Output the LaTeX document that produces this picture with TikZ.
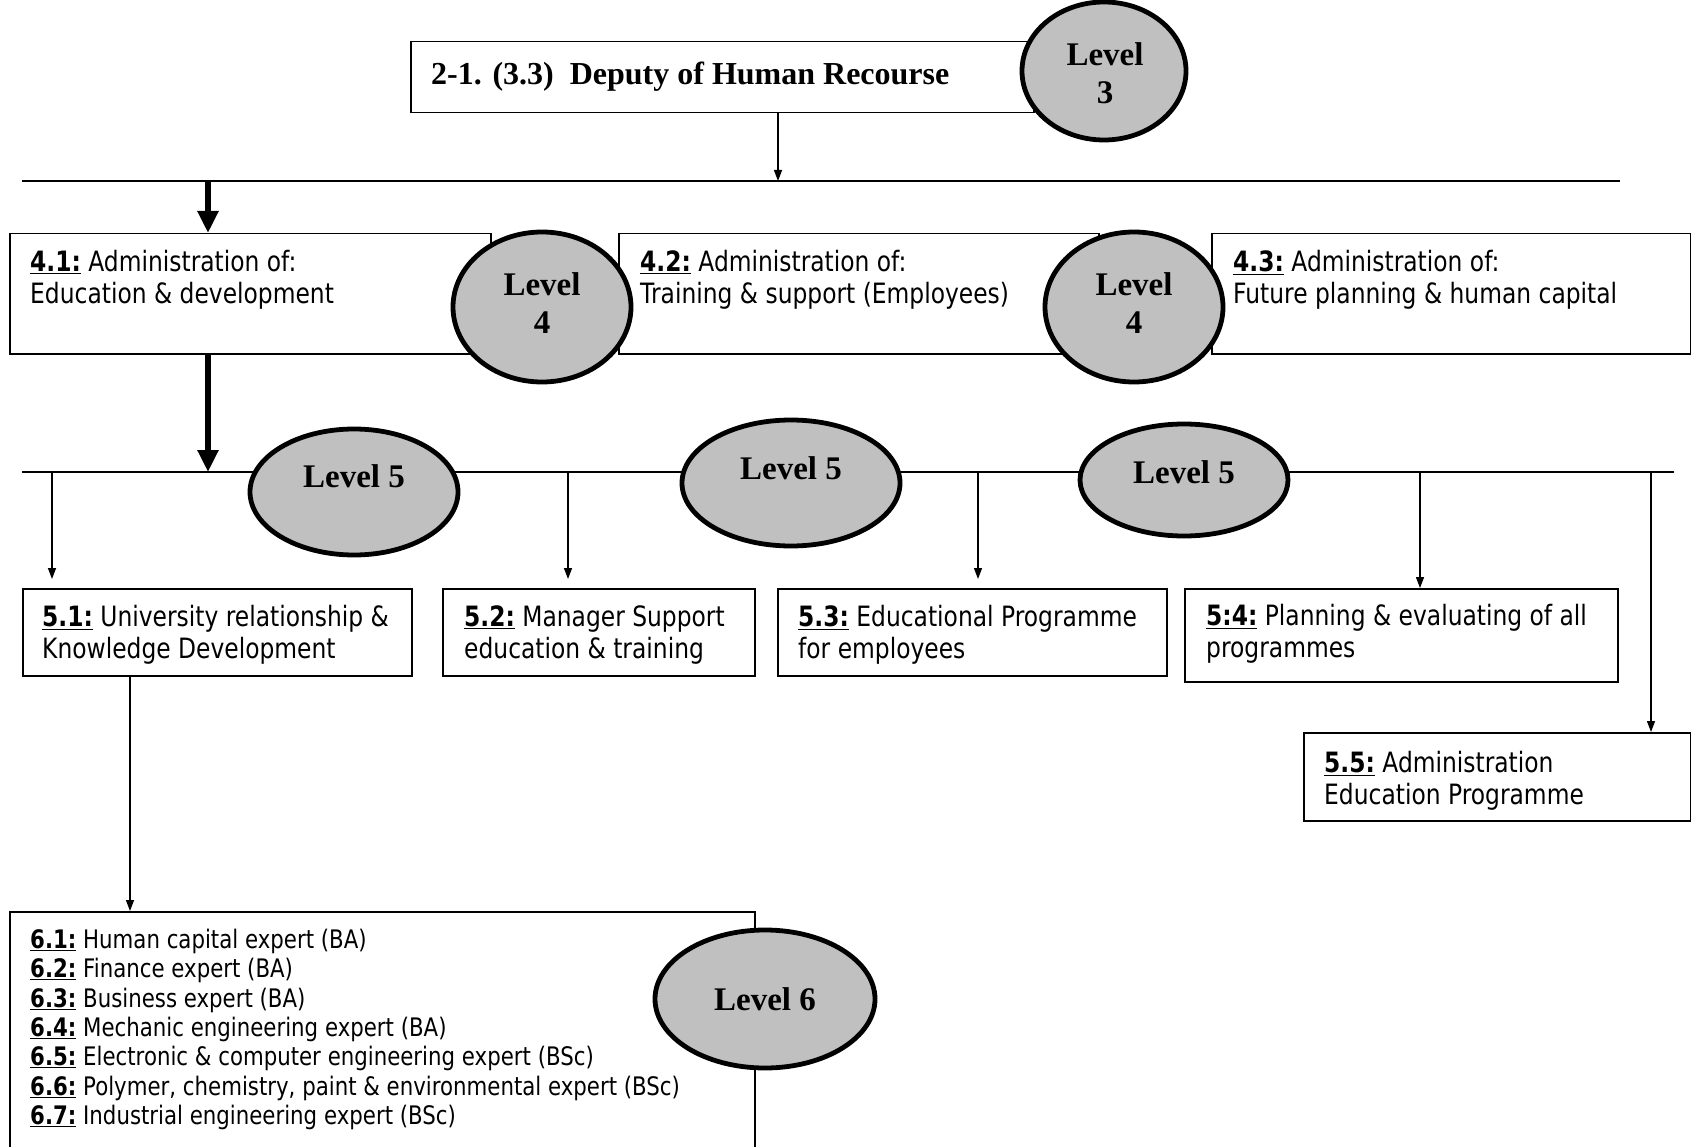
\documentclass[tikz,border=0pt]{standalone}
\usepackage{fontspec}
\usetikzlibrary{shapes.geometric,arrows.meta}
\newfontfamily\bodyf[FakeStretch=0.835]{DejaVu Sans}
\newfontfamily\timesf{Liberation Serif}
\definecolor{lvlgray}{RGB}{192,192,192}
\newcommand{\lb}[1]{\underline{\textbf{#1}}}
\begin{document}
\begin{tikzpicture}[x=1pt,y=-1pt,
  box/.style={draw, line width=1.5pt, fill=white, inner sep=0pt, anchor=north west},
  lvl/.style={ellipse, draw, line width=4.8pt, fill=lvlgray, inner sep=0pt},
  conn/.style={line width=1.4pt, -{Triangle[length=11pt,width=8pt]}},
  bigarrow/.style={line width=6pt, -{Triangle[length=22pt,width=20pt]}},
  bus/.style={line width=1.6pt},
  txt/.style={anchor=west, inner sep=0pt, align=left, font=\bodyf\fontsize{28}{31.5}\selectfont},
  smalltxt/.style={anchor=north west, inner sep=0pt, align=left, font=\bodyf\fontsize{25.5}{29.3}\selectfont},
  lvltxt/.style={inner sep=0pt, align=center, font=\timesf\bfseries\fontsize{33}{38}\selectfont},
]
\useasboundingbox[fill=white] (0,0) rectangle (1691,1147);

% bus coordinates
\coordinate (busAL) at (22,181);
\coordinate (busAR) at (1620,181);
\coordinate (busBL) at (22,472);
\coordinate (busBR) at (1674,472);
\coordinate (tA) at (778,181);
\coordinate (tB) at (208,181);
\coordinate (c1) at (52,472);
\coordinate (c2) at (568,472);
\coordinate (c3) at (978,472);
\coordinate (c4) at (1420,472);
\coordinate (c5) at (1651,472);
\coordinate (c6) at (130,0);

\draw[bus] (busAL) -- (busAR);
\draw[bus] (busBL) -- (busBR);

% boxes
\node[box, minimum width=623pt, minimum height=71pt] (top) at (410,41) {};
\node[box, minimum width=481pt, minimum height=120pt] (b41) at (9,233) {};
\node[box, minimum width=480pt, minimum height=120pt] (b42) at (618,233) {};
\node[box, minimum width=479pt, minimum height=120pt] (b43) at (1211,233) {};
\node[box, minimum width=389pt, minimum height=87pt] (b51) at (22,588) {};
\node[box, minimum width=312pt, minimum height=87pt] (b52) at (442,588) {};
\node[box, minimum width=389pt, minimum height=87pt] (b53) at (777,588) {};
\node[box, minimum width=433pt, minimum height=93pt] (b54) at (1184,588) {};
\node[box, minimum width=387pt, minimum height=88pt] (b55) at (1303,732) {};
\node[box, minimum width=745pt, minimum height=250pt] (b6) at (9,911) {};

% connectors
\draw[conn] (top.south -| tA) -- (tA);
\draw[bigarrow] (tB) -- (b41.north -| tB);
\draw[bigarrow] (b41.south -| tB) -- (busBL -| tB);
\draw[conn, shorten >=9pt] (c1) -- (b51.north -| c1);
\draw[conn, shorten >=9pt] (c2) -- (b52.north -| c2);
\draw[conn, shorten >=9pt] (c3) -- (b53.north -| c3);
\draw[conn] (c4) -- (b54.north -| c4);
\draw[conn] (c5) -- (b55.north -| c5);
\draw[conn] (b51.south -| c6) -- (b6.north -| c6);

% level ellipses
\node[lvl, minimum width=164pt, minimum height=138pt] (e3) at (1104,71) {};
\node[lvl, minimum width=178pt, minimum height=150pt] (e41) at (542,307) {};
\node[lvl, minimum width=178pt, minimum height=150pt] (e42) at (1134,307) {};
\node[lvl, minimum width=208pt, minimum height=126pt] (e51) at (354,492) {};
\node[lvl, minimum width=218pt, minimum height=126pt] (e52) at (791,483) {};
\node[lvl, minimum width=208pt, minimum height=112pt] (e53) at (1184,480) {};
\node[lvl, minimum width=220pt, minimum height=138pt] (e6) at (765,999) {};

% level texts
\node[lvltxt] (l3) at (1105,73) {Level\\3};
\node[lvltxt] (l41) at (542,303) {Level\\4};
\node[lvltxt] (l42) at (1134,303) {Level\\4};
\node[lvltxt] (l51) at (354,476) {Level 5};
\node[lvltxt] (l52) at (791,468) {Level 5};
\node[lvltxt] (l53) at (1184,472) {Level 5};
\node[lvltxt] (l6) at (765,999) {Level 6};

% box texts
\node[anchor=west, inner sep=0pt, font=\timesf\bfseries\fontsize{32}{38}\selectfont] (ttop) at (431,77) {2-1. (3.3)\ \ Deputy of Human Recourse};
\node[txt] (t41) at (30,280) {\lb{4.1:} Administration of:\\Education \& development};
\node[txt] (t42) at (640,280) {\lb{4.2:} Administration of:\\Training \& support (Employees)};
\node[txt] (t43) at (1233,280) {\lb{4.3:} Administration of:\\Future planning \& human capital};
\node[txt] (t51) at (42,635) {\lb{5.1:} University relationship \&\\Knowledge Development};
\node[txt] (t52) at (464,635) {\lb{5.2:} Manager Support\\education \& training};
\node[txt] (t53) at (798,635) {\lb{5.3:} Educational Programme\\for employees};
\node[txt] (t54) at (1206,634) {\lb{5:4:} Planning \& evaluating of all\\programmes};
\node[txt] (t55) at (1324,781) {\lb{5.5:} Administration\\Education Programme};
\node[smalltxt] (t6) at (30,929) {\lb{6.1:} Human capital expert (BA)\\
\lb{6.2:} Finance expert (BA)\\
\lb{6.3:} Business expert (BA)\\
\lb{6.4:} Mechanic engineering expert (BA)\\
\lb{6.5:} Electronic \& computer engineering expert (BSc)\\
\lb{6.6:} Polymer, chemistry, paint \& environmental expert (BSc)\\
\lb{6.7:} Industrial engineering expert (BSc)};
\end{tikzpicture}
\end{document}
